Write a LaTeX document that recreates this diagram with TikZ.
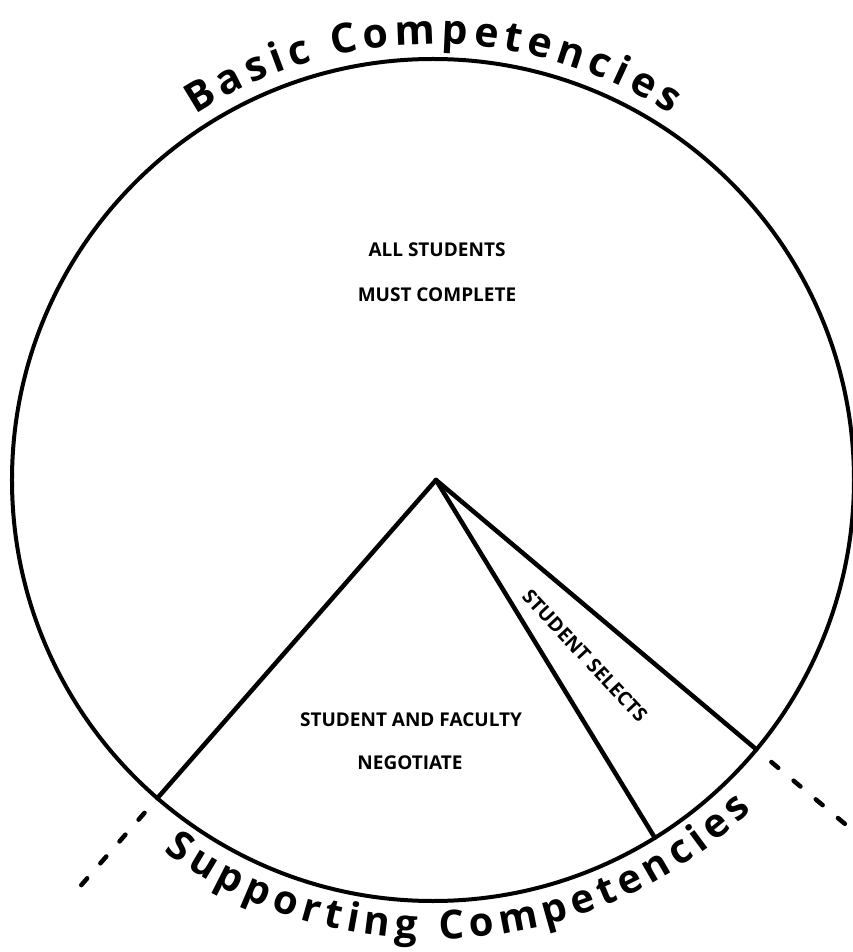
\documentclass[tikz,border=0pt]{standalone}
\usepackage{fontspec}
\setmainfont{Open Sans}
\usetikzlibrary{calc,decorations.text}
\begin{document}
\begin{tikzpicture}[x=1pt,y=1pt,
  ring/.style={draw, circle, line width=4pt, inner sep=0pt, outer sep=0pt, minimum size=842pt},
  spoke/.style={line width=4.5pt, line cap=round},
  ext/.style={line width=4.5pt, line cap=round, dash pattern=on 9pt off 20pt},
  lbl/.style={font=\bfseries\fontsize{19}{22}\selectfont, inner sep=0pt},
  sel/.style={font=\bfseries\fontsize{19.5}{22}\selectfont, inner sep=0pt},
]
\fill[white] (-433,-472) rectangle (420,480);
\useasboundingbox (-433,-472) rectangle (420,480);
\node[ring] (C) at (0,0) {};
\coordinate (A) at (3,0);
\coordinate (L) at (-130.9:421);
\coordinate (M) at (-58.2:421);
\coordinate (R) at (-39.8:421);
\draw[spoke] (A) -- (L);
\draw[spoke] (A) -- (M);
\draw[spoke] (A) -- (R);
\coordinate (L1) at ($(L)!-19.5pt!(A)$);
\coordinate (L2) at ($(L)!-116pt!(A)$);
\coordinate (R1) at ($(R)!-19.5pt!(A)$);
\coordinate (R2) at ($(R)!-116pt!(A)$);
\draw[ext] (L1) -- (L2);
\draw[ext] (R1) -- (R2);
\path[decorate, decoration={text along path,
  text={|\bfseries\fontsize{41}{50}\selectfont|Basic Competencies},
  text align={fit to path}}]
  (123:436) arc[start angle=123, end angle=57, radius=436];
\path[decorate, decoration={text along path,
  text={|\bfseries\fontsize{40}{50}\selectfont|Supporting Competencies},
  text align={fit to path}}]
  (-126:459) arc[start angle=-126, end angle=-46, radius=459];
\node[lbl] (t1) at (4,230) {ALL STUDENTS};
\node[lbl] (t2) at (4,185) {MUST COMPLETE};
\node[lbl] (t3) at (-22,-240) {STUDENT AND FACULTY};
\node[lbl] (t4) at (-23,-283) {NEGOTIATE};
\node[sel, rotate=-47] (t5) at (152,-176) {STUDENT SELECTS};
\end{tikzpicture}
\end{document}
